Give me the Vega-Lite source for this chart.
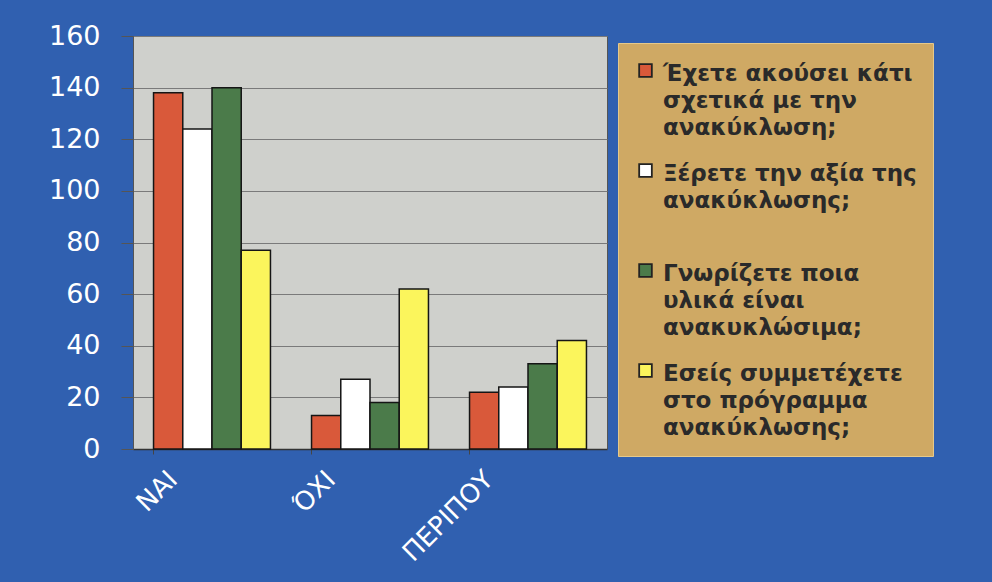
{
  "$schema": "https://vega.github.io/schema/vega-lite/v6.json",
  "width": 474,
  "height": 413,
  "autosize": {"type": "none"},
  "padding": {"left": 133, "top": 36, "right": 385, "bottom": 133},
  "background": "#3060b0",
  "data": {
    "values": [
      {"answer": "ΝΑΙ", "q": "Έχετε ακούσει κάτι σχετικά με την ανακύκλωση;", "value": 138},
      {"answer": "ΝΑΙ", "q": "Ξέρετε την αξία της ανακύκλωσης;", "value": 124},
      {"answer": "ΝΑΙ", "q": "Γνωρίζετε ποια υλικά είναι ανακυκλώσιμα;", "value": 140},
      {"answer": "ΝΑΙ", "q": "Εσείς συμμετέχετε στο πρόγραμμα ανακύκλωσης;", "value": 77},
      {"answer": "ΌΧΙ", "q": "Έχετε ακούσει κάτι σχετικά με την ανακύκλωση;", "value": 13},
      {"answer": "ΌΧΙ", "q": "Ξέρετε την αξία της ανακύκλωσης;", "value": 27},
      {"answer": "ΌΧΙ", "q": "Γνωρίζετε ποια υλικά είναι ανακυκλώσιμα;", "value": 18},
      {"answer": "ΌΧΙ", "q": "Εσείς συμμετέχετε στο πρόγραμμα ανακύκλωσης;", "value": 62},
      {"answer": "ΠΕΡΙΠΟΥ", "q": "Έχετε ακούσει κάτι σχετικά με την ανακύκλωση;", "value": 22},
      {"answer": "ΠΕΡΙΠΟΥ", "q": "Ξέρετε την αξία της ανακύκλωσης;", "value": 24},
      {"answer": "ΠΕΡΙΠΟΥ", "q": "Γνωρίζετε ποια υλικά είναι ανακυκλώσιμα;", "value": 33},
      {"answer": "ΠΕΡΙΠΟΥ", "q": "Εσείς συμμετέχετε στο πρόγραμμα ανακύκλωσης;", "value": 42}
    ]
  },
  "mark": {"type": "bar", "stroke": "#151515", "strokeWidth": 1.5},
  "encoding": {
    "x": {
      "field": "answer",
      "type": "nominal",
      "sort": ["ΝΑΙ", "ΌΧΙ", "ΠΕΡΙΠΟΥ"],
      "scale": {"paddingInner": 0.26, "paddingOuter": 0.13},
      "axis": {
        "title": null,
        "labelAngle": -45,
        "labelAlign": "right",
        "labelBaseline": "top",
        "labelColor": "#ffffff",
        "labelFont": "DejaVu Sans",
        "labelFontSize": 26,
        "labelPadding": 12,
        "labelOffset": -48,
        "bandPosition": 0,
        "ticks": true,
        "tickSize": 5,
        "tickColor": "#444444",
        "domainColor": "#333333",
        "domainWidth": 1.5,
        "grid": false
      }
    },
    "xOffset": {
      "field": "q",
      "sort": [
        "Έχετε ακούσει κάτι σχετικά με την ανακύκλωση;",
        "Ξέρετε την αξία της ανακύκλωσης;",
        "Γνωρίζετε ποια υλικά είναι ανακυκλώσιμα;",
        "Εσείς συμμετέχετε στο πρόγραμμα ανακύκλωσης;"
      ],
      "scale": {"paddingInner": 0, "paddingOuter": 0}
    },
    "y": {
      "field": "value",
      "type": "quantitative",
      "scale": {"domain": [0, 160], "nice": false},
      "axis": {
        "title": null,
        "values": [0, 20, 40, 60, 80, 100, 120, 140, 160],
        "labelColor": "#ffffff",
        "labelFont": "DejaVu Sans",
        "labelFontSize": 27,
        "labelPadding": 21,
        "tickSize": 12,
        "tickColor": "#555555",
        "domainColor": "#555555",
        "gridColor": "#7a7a7a",
        "gridWidth": 1
      }
    },
    "color": {
      "field": "q",
      "type": "nominal",
      "scale": {
        "domain": [
          "Έχετε ακούσει κάτι σχετικά με την ανακύκλωση;",
          "Ξέρετε την αξία της ανακύκλωσης;",
          "Γνωρίζετε ποια υλικά είναι ανακυκλώσιμα;",
          "Εσείς συμμετέχετε στο πρόγραμμα ανακύκλωσης;"
        ],
        "range": ["#d9593a", "#ffffff", "#4b7b4a", "#fbf55c"]
      },
      "legend": {
        "title": null,
        "orient": "none",
        "legendX": 485,
        "legendY": 7,
        "fillColor": "#cfa964",
        "strokeColor": "#e6c98a",
        "padding": 16,
        "labelFont": "DejaVu Sans",
        "labelFontWeight": "bold",
        "labelFontSize": 23,
        "labelColor": "#2a2a2a",
        "labelLimit": 400,
        "labelBaseline": "top",
        "labelOffset": 6,
        "symbolType": "square",
        "symbolSize": 160,
        "symbolStrokeColor": "#222222",
        "symbolStrokeWidth": 1.8,
        "rowPadding": 19,
        "encode": {
          "labels": {"update": {"lineHeight": {"value": 27}, "dy": {"value": -8}}}
        },
        "labelExpr": "datum.label == 'Έχετε ακούσει κάτι σχετικά με την ανακύκλωση;' ? ['Έχετε ακούσει κάτι', 'σχετικά με την', 'ανακύκλωση;'] : datum.label == 'Ξέρετε την αξία της ανακύκλωσης;' ? ['Ξέρετε την αξία της', 'ανακύκλωσης;', ' '] : datum.label == 'Γνωρίζετε ποια υλικά είναι ανακυκλώσιμα;' ? ['Γνωρίζετε ποια', 'υλικά είναι', 'ανακυκλώσιμα;'] : ['Εσείς συμμετέχετε', 'στο πρόγραμμα', 'ανακύκλωσης;']"
      }
    }
  },
  "config": {
    "view": {"fill": "#cfd0cc", "stroke": "#555555", "strokeWidth": 1}
  }
}
